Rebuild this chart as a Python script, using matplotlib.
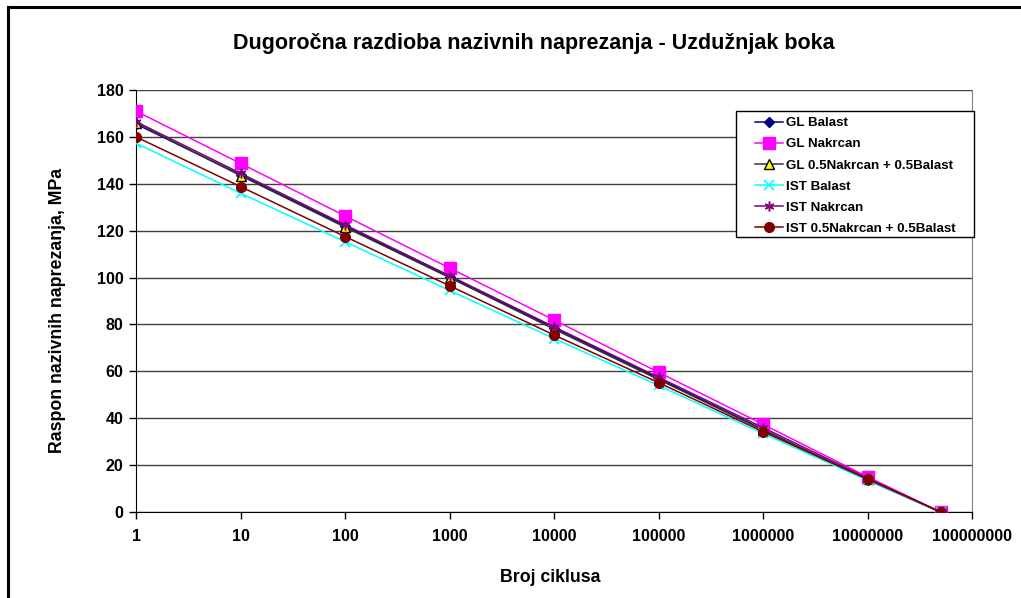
import matplotlib
matplotlib.use("Agg")
import matplotlib.pyplot as plt
from matplotlib.lines import Line2D
from matplotlib.patches import Rectangle

plt.rcParams['font.family'] = ['Liberation Sans', 'DejaVu Sans']
plt.rcParams['font.weight'] = 'bold'

# Number of cycles (x) and nominal stress ranges (MPa) per series
cycles = [1, 10, 100, 1000, 10000, 100000, 1000000, 10000000, 50000000]
x_tick_values = [1, 10, 100, 1000, 10000, 100000, 1000000, 10000000, 100000000]
x_tick_labels = ["1", "10", "100", "1000", "10000", "100000", "1000000",
                 "10000000", "100000000"]

gl_balast = [165.5, 143.8, 122.0, 100.3, 78.6, 57.0, 35.2, 13.6, 0.0]
gl_nakrcan = [171.0, 148.7, 126.3, 104.1, 81.9, 59.6, 37.4, 15.0, 0.0]
gl_mix = [166.0, 143.5, 121.5, 100.0, 78.0, 56.5, 35.0, 14.0, 0.0]
ist_balast = [157.3, 136.0, 115.3, 94.5, 74.0, 54.0, 33.5, 13.5, 0.0]
ist_nakrcan = [166.5, 144.5, 122.5, 100.8, 79.0, 57.5, 36.0, 14.5, 0.0]
ist_mix = [160.0, 138.8, 117.5, 96.5, 75.5, 55.2, 34.3, 14.0, 0.0]

series = [
    ("GL Balast", gl_balast, dict(color="#000080", marker="D", ms=5,
                                  mfc="#000080", mec="#000080")),
    ("GL Nakrcan", gl_nakrcan, dict(color="#FF00FF", marker="s", ms=8,
                                    mfc="#FF00FF", mec="#FF00FF")),
    ("GL 0.5Nakrcan + 0.5Balast", gl_mix, dict(color="#333333", marker="^", ms=7,
                                               mfc="#FFFF00", mec="#000000")),
    ("IST Balast", ist_balast, dict(color="#00FFFF", marker="x", ms=7,
                                    mfc="#00FFFF", mec="#00FFFF", mew=1.2)),
    ("IST Nakrcan", ist_nakrcan, dict(color="#800080", marker=(6, 2, 0), ms=7,
                                      mfc="#800080", mec="#800080", mew=1.1)),
    ("IST 0.5Nakrcan + 0.5Balast", ist_mix, dict(color="#800000", marker="o", ms=7,
                                                 mfc="#800000", mec="#800000")),
]

W, H = 1021, 598
fig = plt.figure(figsize=(W / 100, H / 100), dpi=100)
fig.patch.set_facecolor("white")

# outer chart frame (left and top edges)
fig.add_artist(Line2D([8 / W, 8 / W], [0, 1 - 7 / H], transform=fig.transFigure,
                      color="black", lw=2.2))
fig.add_artist(Line2D([8 / W, 1], [1 - 7 / H, 1 - 7 / H], transform=fig.transFigure,
                      color="black", lw=2.2))

left, right, top, bottom = 136, 972, 90, 512
ax = fig.add_axes([left / W, 1 - bottom / H, (right - left) / W, (bottom - top) / H])

ax.set_xscale("log")
ax.set_xlim(1, 1e8)
ax.set_ylim(0, 180)

for name, vals, style in series:
    ax.plot(cycles, vals, lw=1.1, label=name, zorder=3, **style)

ax.set_yticks(range(0, 181, 20))
ax.set_xticks(x_tick_values)
ax.set_xticklabels(x_tick_labels)
ax.xaxis.set_minor_locator(matplotlib.ticker.NullLocator())
ax.tick_params(axis="both", which="major", labelsize=11.5, length=5, width=1,
               direction="out", color="black")
ax.tick_params(axis="x", pad=7)
ax.tick_params(axis="y", pad=4)
for lab in ax.get_xticklabels() + ax.get_yticklabels():
    lab.set_fontweight("bold")

ax.grid(axis="y", color="#404040", lw=1.0)
ax.set_axisbelow(True)
ax.spines["left"].set_color("black")
ax.spines["bottom"].set_color("black")
ax.spines["right"].set_color("#808080")
ax.spines["top"].set_visible(False)

fig.text(534 / W, 1 - 43 / H,
         "Dugoročna razdioba nazivnih naprezanja - Uzdužnjak boka",
         ha="center", va="center", fontsize=15.5, fontweight="bold")
fig.text(550 / W, 1 - 578 / H, "Broj ciklusa", ha="center", va="center",
         fontsize=12.8, fontweight="bold")
fig.text(58 / W, 1 - 310 / H, "Raspon nazivnih naprezanja, MPa", ha="center",
         va="center", rotation=90, fontsize=12.8, fontweight="bold")

# legend box
fig.add_artist(Rectangle((736 / W, 1 - 237 / H), (974 - 736) / W, (237 - 111) / H,
                         transform=fig.transFigure, facecolor="white",
                         edgecolor="black", lw=1.0, zorder=4))
leg = fig.legend(loc="upper left", bbox_to_anchor=(755 / W, 1 - 117 / H),
                 bbox_transform=fig.transFigure, fontsize=9.6, frameon=False,
                 borderpad=0, labelspacing=0.66, handlelength=2.1,
                 handletextpad=0.2, borderaxespad=0)
leg.set_zorder(5)
for t in leg.get_texts():
    t.set_fontweight("bold")

fig.savefig("out.png", dpi=100)
